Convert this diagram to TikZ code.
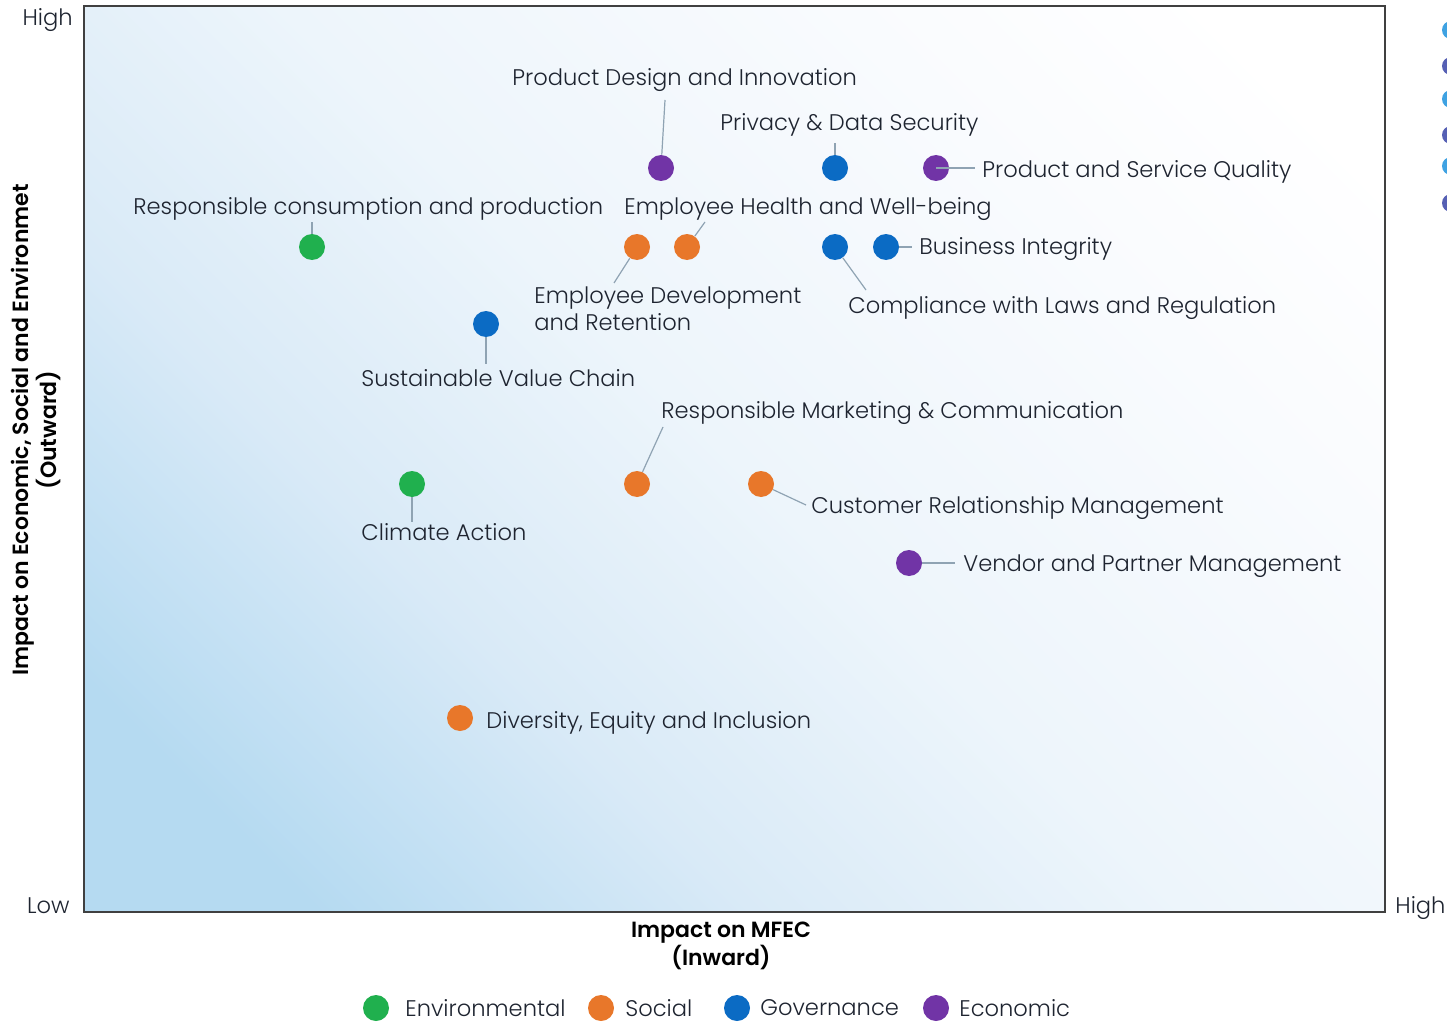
\documentclass[tikz,border=0pt]{standalone}
\usepackage{fontspec}
\setmainfont{Poppins}[UprightFont=* Light, BoldFont=* SemiBold]
\definecolor{cgreen}{HTML}{20B04E}
\definecolor{corange}{HTML}{E8772A}
\definecolor{cblue}{HTML}{0B6BC4}
\definecolor{cpurple}{HTML}{7134A6}
\definecolor{txt}{HTML}{1E2430}
\definecolor{leadc}{HTML}{8FA3B3}
\definecolor{bgblue}{HTML}{B5DAF1}
\definecolor{bgmid}{HTML}{D9EAF7}
\definecolor{bglight}{HTML}{EDF5FB}
\definecolor{bgwhite}{HTML}{F9FBFE}
\definecolor{edgeL}{HTML}{3FA2E2}
\definecolor{edgeD}{HTML}{5660B4}
\pgfdeclareverticalshading{bgshade}{100bp}{color(0bp)=(bgblue); color(22bp)=(bgblue); color(36bp)=(bgmid); color(50bp)=(bglight); color(68bp)=(bgwhite); color(80bp)=(white); color(100bp)=(white)}
\tikzset{
  dot/.style={circle, inner sep=0pt, minimum size=13pt},
  lbl/.style={font=\fontsize{11.3}{13.5}\selectfont, text=txt, inner sep=0pt},
  lead/.style={draw=leadc, line width=0.6pt},
  axt/.style={font=\fontsize{11.3}{13}\selectfont, text=txt, inner sep=0pt},
  ttl/.style={font=\bfseries\fontsize{11}{14}\selectfont, text=black, inner sep=0pt, align=center},
}
\begin{document}
\begin{tikzpicture}[x=0.5pt,y=-0.5pt]
\useasboundingbox (0,0) rectangle (1447,1022);
\clip (0,0) rectangle (1447,1022);
% plot area
\shade[shading=bgshade, shading angle=-45] (84,6) rectangle (1385,912);
\draw[draw=black!75, line width=0.6pt] (84,6) rectangle (1385,912);
% axis end labels
\node[axt, anchor=base east] (hiy) at (73,26) {High};
\node[axt, anchor=base east] (loy) at (70,913) {Low};
\node[axt, anchor=base west] (hix) at (1395,913) {High};
% axis titles
\node[ttl, rotate=90] (ytitle) at (36,430) {Impact on Economic, Social and Environmet\\(Outward)};
\node[ttl] (xtitle) at (721,946) {Impact on MFEC\\(Inward)};
% partial shapes on right edge
\foreach \yy/\cc in {30/edgeL,66/edgeD,99/edgeL,135/edgeD,166/edgeL,203/edgeD}{
  \fill[\cc] (1451,\yy) circle (9);
}
% labels
\node[lbl, anchor=base west] (lPDI) at (512,86) {Product Design and Innovation};
\node[lbl, anchor=base west] (lPDS) at (720,131) {Privacy \& Data Security};
\node[lbl, anchor=base west] (lPSQ) at (982,177) {Product and Service Quality};
\node[lbl, anchor=base west] (lRCP) at (133,214) {Responsible consumption and production};
\node[lbl, anchor=base west] (lEHW) at (624,214) {Employee Health and Well-being};
\node[lbl, anchor=base west] (lBI) at (919,255) {Business Integrity};
\node[lbl, anchor=north west, align=left] (lEDR) at (534,286) {Employee Development\\and Retention};
\node[lbl, anchor=base west] (lCLR) at (848,313) {Compliance with Laws and Regulation};
\node[lbl, anchor=base west] (lSVC) at (361,386) {Sustainable Value Chain};
\node[lbl, anchor=base west] (lRMC) at (661,418) {Responsible Marketing \& Communication};
\node[lbl, anchor=base west] (lCRM) at (811,513) {Customer Relationship Management};
\node[lbl, anchor=base west] (lCA) at (361,540) {Climate Action};
\node[lbl, anchor=base west] (lVPM) at (963,571) {Vendor and Partner Management};
\node[lbl, anchor=base west] (lDEI) at (486,728) {Diversity, Equity and Inclusion};
% leader end points
\coordinate (ePDI) at (665,100);
\coordinate (ePDS) at (835,143);
\coordinate (ePSQ) at (975,168);
\coordinate (eRCP) at (312,222);
\coordinate (eEHW) at (705,222);
\coordinate (eBI) at (912,247);
\coordinate (eEDR) at (614,283);
\coordinate (eCLR) at (866,290);
\coordinate (eSVC) at (486,364);
\coordinate (eRMC) at (663,427);
\coordinate (eCRM) at (806,505);
\coordinate (eCA) at (412,522);
\coordinate (eVPM) at (955,563);
% dots
\node[dot, fill=cpurple] (dPDI) at (661,168) {};
\node[dot, fill=cblue] (dPDS) at (835,168) {};
\node[dot, fill=cpurple] (dPSQ) at (936,168) {};
\node[dot, fill=cgreen] (dRCP) at (312,247) {};
\node[dot, fill=corange] (dEDR) at (637,247) {};
\node[dot, fill=corange] (dEHW) at (687,247) {};
\node[dot, fill=cblue] (dCLR) at (835,247) {};
\node[dot, fill=cblue] (dBI) at (886,247) {};
\node[dot, fill=cblue] (dSVC) at (486,324) {};
\node[dot, fill=cgreen] (dCA) at (412,484) {};
\node[dot, fill=corange] (dRMC) at (637,484) {};
\node[dot, fill=corange] (dCRM) at (761,484) {};
\node[dot, fill=cpurple] (dVPM) at (909,563) {};
\node[dot, fill=corange] (dDEI) at (460,718) {};
% leaders
\draw[lead] (dPDI) -- (ePDI);
\draw[lead] (dPDS) -- (ePDS);
\draw[lead] (dPSQ.center) -- (ePSQ);
\draw[lead] (dRCP) -- (eRCP);
\draw[lead] (dEHW) -- (eEHW);
\draw[lead] (dBI) -- (eBI);
\draw[lead] (dEDR) -- (eEDR);
\draw[lead] (dCLR) -- (eCLR);
\draw[lead] (dSVC) -- (eSVC);
\draw[lead] (dRMC) -- (eRMC);
\draw[lead] (dCRM) -- (eCRM);
\draw[lead] (dCA) -- (eCA);
\draw[lead] (dVPM) -- (eVPM);
% legend
\node[dot, fill=cgreen] (gEnv) at (376,1008) {};
\node[lbl, anchor=west] (tEnv) at (405,1008) {Environmental};
\node[dot, fill=corange] (gSoc) at (601,1008) {};
\node[lbl, anchor=west] (tSoc) at (625,1008) {Social};
\node[dot, fill=cblue] (gGov) at (737,1008) {};
\node[lbl, anchor=west] (tGov) at (760,1008) {Governance};
\node[dot, fill=cpurple] (gEco) at (936,1008) {};
\node[lbl, anchor=west] (tEco) at (959,1008) {Economic};
\end{tikzpicture}
\end{document}
